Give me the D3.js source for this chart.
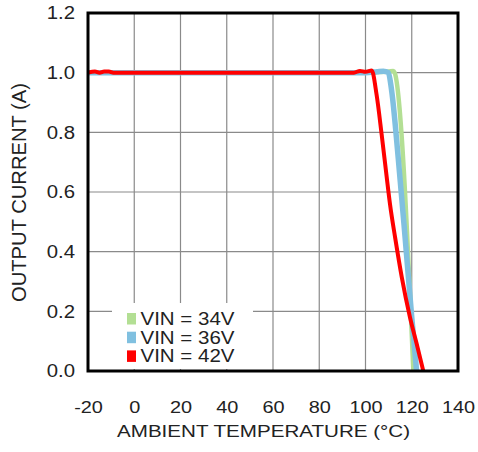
<!DOCTYPE html>
<html><head><meta charset="utf-8">
<script src="https://cdn.jsdelivr.net/npm/d3@7"></script>
<style>body{margin:0;background:#fff;} text{font-family:"Liberation Sans",Arial,sans-serif;}</style>
</head><body>
<svg id="c" width="478" height="452"></svg>
<script>
const xTicks = [-20,0,20,40,60,80,100,120,140];
const yTicks = [0.0,0.2,0.4,0.6,0.8,1.0,1.2];
const seriesNames = ["VIN = 34V","VIN = 36V","VIN = 42V"];
const seriesColors = ["#b3df94","#80c0e0","#ff0000"];
const v34T = [-20,0,40,80,100,106,110,112,112.6,120.7];
const v34I = [1.0,1.0,1.0,1.0,1.0,1.002,1.004,1.006,1.0,0.0];
const v36T = [-20,0,40,80,100,105,107.7,109.9,111.3,114.2,117.1,120.0,122.1];
const v36I = [1.0,1.0,1.0,1.0,1.0,1.003,1.005,1.0,0.94,0.71,0.45,0.18,0.0];
const v42T = [-20,-17,-15,-13,-11,-9,-5,20,60,90,95,97.6,100,102.7,104.8,107.0,109.2,110.6,112.8,115.7,119.2,122.1,125.0];
const v42I = [1.0,1.004,1.0,1.004,1.004,1.0,1.0,1.0,1.0,1.0,1.0,1.006,1.003,1.007,0.926,0.792,0.648,0.559,0.448,0.314,0.181,0.092,0.0];

const svg = d3.select("#c");
const L=88,R=458,T=13,B=371;
const x = d3.scaleLinear().domain([-20,140]).range([L,R]);
const y = d3.scaleLinear().domain([0,1.2]).range([B,T]);
function stretch(sel, f){ sel.each(function(){ const w=this.getComputedTextLength(); d3.select(this).attr("textLength",w*f).attr("lengthAdjust","spacingAndGlyphs"); }); }

// grid
svg.append("g").selectAll("line").data(xTicks.slice(1,-1)).join("line")
 .attr("x1",d=>x(d)).attr("x2",d=>x(d)).attr("y1",T).attr("y2",B)
 .attr("stroke","#8a8a8a").attr("stroke-width",1.2);
svg.append("g").selectAll("line").data(yTicks.slice(1,-1)).join("line")
 .attr("y1",d=>y(d)).attr("y2",d=>y(d)).attr("x1",L).attr("x2",R)
 .attr("stroke","#8a8a8a").attr("stroke-width",1.2);

// axes labels via d3 axes
const xAxis = d3.axisBottom(x).tickValues(xTicks).tickSize(0).tickPadding(30).tickFormat(d=>d);
const gx = svg.append("g").attr("transform",`translate(0,${B})`).call(xAxis);
gx.select(".domain").remove();
gx.selectAll("text").attr("font-size",17).attr("fill","#222").attr("font-family","Liberation Sans, Arial, sans-serif");
stretch(gx.selectAll("text"),1.17);
const yAxis = d3.axisLeft(y).tickValues(yTicks).tickSize(0).tickPadding(13).tickFormat(d3.format(".1f"));
const gy = svg.append("g").attr("transform",`translate(${L},0)`).call(yAxis);
gy.select(".domain").remove();
gy.selectAll("text").attr("font-size",18).attr("fill","#222").attr("font-family","Liberation Sans, Arial, sans-serif");
stretch(gy.selectAll("text"),1.13);

// titles
const xt = svg.append("text").attr("x",263.5).attr("y",436.5).attr("text-anchor","middle")
 .attr("font-size",17).attr("fill","#222").text("AMBIENT TEMPERATURE (°C)");
xt.attr("textLength",293).attr("lengthAdjust","spacingAndGlyphs");
const yt = svg.append("text").attr("transform","translate(25.5,192.5) rotate(-90)").attr("text-anchor","middle")
 .attr("font-size",20).attr("fill","#222").text("OUTPUT CURRENT (A)");
yt.attr("textLength",219).attr("lengthAdjust","spacingAndGlyphs");

// lines
const line = d3.line().x(d=>x(d[0])).y(d=>y(d[1])).curve(d3.curveMonotoneX);
const sets = [[v34T,v34I],[v36T,v36I],[v42T,v42I]];
const widths = [4.5,5.5,4];
svg.append("defs").append("clipPath").attr("id","clip").append("rect").attr("x",L).attr("y",T).attr("width",R-L).attr("height",B-T);
const lg = svg.append("g").attr("clip-path","url(#clip)");
sets.forEach((s,i)=>{
  const pts = s[0].map((t,j)=>[t,s[1][j]]);
  lg.append("path").datum(pts).attr("d",line).attr("fill","none")
   .attr("stroke",seriesColors[i]).attr("stroke-width",widths[i]).attr("stroke-linejoin","round");
});

// legend
const leg = svg.append("g");
leg.append("rect").attr("x",112).attr("y",303).attr("width",141).attr("height",66).attr("fill","#fff");
seriesNames.forEach((n,i)=>{
  const yy = 325 + i*18.7;
  leg.append("rect").attr("x",127).attr("y",yy-12).attr("width",9).attr("height",11.5).attr("fill",seriesColors[i]);
  leg.append("text").attr("x",140.5).attr("y",yy).attr("font-size",18.5).attr("fill","#222")
   .attr("textLength",94).attr("lengthAdjust","spacingAndGlyphs").text(n);
});

// frame
svg.append("rect").attr("x",L).attr("y",T).attr("width",R-L).attr("height",B-T)
 .attr("fill","none").attr("stroke","#000").attr("stroke-width",3);
</script>
</body></html>
